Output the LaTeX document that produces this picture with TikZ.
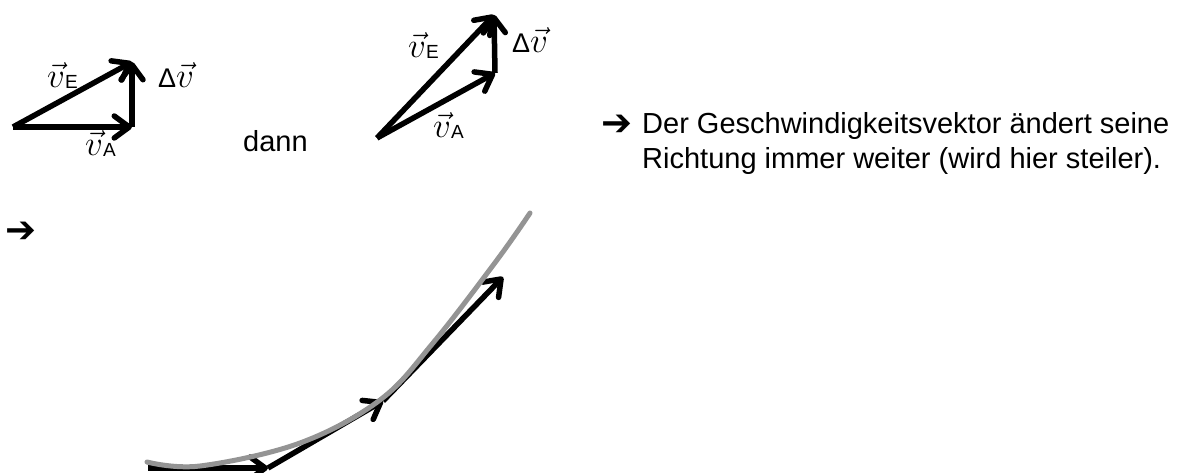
\RequirePackage{fix-cm}
\documentclass[tikz,border=0pt]{standalone}
\usepackage{fontspec}
\setmainfont{Liberation Sans}
\newfontfamily\arrowfont{DejaVu Sans}
\usetikzlibrary{arrows.meta}
\definecolor{curvegray}{RGB}{148,148,148}
\newcommand\velsub[1]{\raisebox{-1pt}{\fontsize{19}{19}\selectfont #1}}
\newcommand\velo{{\fontsize{35}{35}\selectfont$\vec{v}$}}
\newcommand\dvelo{{\fontsize{27}{27}\selectfont Δ}\velo}

\begin{document}
\begin{tikzpicture}[x=1pt, y=-1pt,
	vec/.style={line width=5.5pt, -{Straight Barb[length=15pt, width=22pt, round]}},
	curve/.style={line width=5pt, line cap=round, draw=curvegray},
	lbl/.style={inner sep=0pt, anchor=base west, font=\fontsize{29}{35}\selectfont},
	arrowsym/.style={lbl, font=\arrowfont\bfseries\fontsize{37}{37}\selectfont}]
	\useasboundingbox (0,0) rectangle (1183,473);
	% first triangle
	\coordinate (l0) at (13,127);
	\coordinate (lA) at (132,127);
	\coordinate (lE) at (132,62);
	\draw[vec] (l0) -- (lA);
	\draw[vec] (l0) -- (lE);
	\draw[vec] (lA) -- (lE);
	\node[lbl] (lvE) at (47,88) {\velo\velsub{E}};
	\node[lbl] (ldv) at (158,88) {\dvelo};
	\node[lbl] (lvA) at (85,156) {\velo\velsub{A}};
	\node[lbl] (dann) at (243,152) {dann};
	% second triangle
	\coordinate (m0) at (377,138);
	\coordinate (mA) at (495,73);
	\coordinate (mE) at (494,15);
	\draw[vec] (m0) -- (mA);
	\draw[vec] (m0) -- (mE);
	\draw[vec] (mA) -- (mE);
	\node[lbl] (mvE) at (408,58) {\velo\velsub{E}};
	\node[lbl] (mdv) at (512,53) {\dvelo};
	\node[lbl] (mvA) at (433,138) {\velo\velsub{A}};
	% text right
	\node[arrowsym] (rarr) at (601,136) {➔};
	\node[lbl] (rtext1) at (642,134) {Der Geschwindigkeitsvektor ändert seine};
	\node[lbl] (rtext2) at (642,169) {Richtung immer weiter (wird hier steiler).};
	% path with tangents
	\node[arrowsym] (larr) at (5,242) {➔};
	\coordinate (c0) at (148,468);
	\coordinate (c1) at (268,468);
	\coordinate (c2) at (383,401);
	\coordinate (c3) at (503,277);
	\draw[vec] (c0) -- (c1);
	\draw[vec] (c1) -- (c2);
	\draw[vec] (c2) -- (c3);
	\draw[curve] plot[smooth, tension=0.6] coordinates {(147,462) (200,466) (300,443) (380,400) (433,343) (497,260) (530,213)};
\end{tikzpicture}
\end{document}
